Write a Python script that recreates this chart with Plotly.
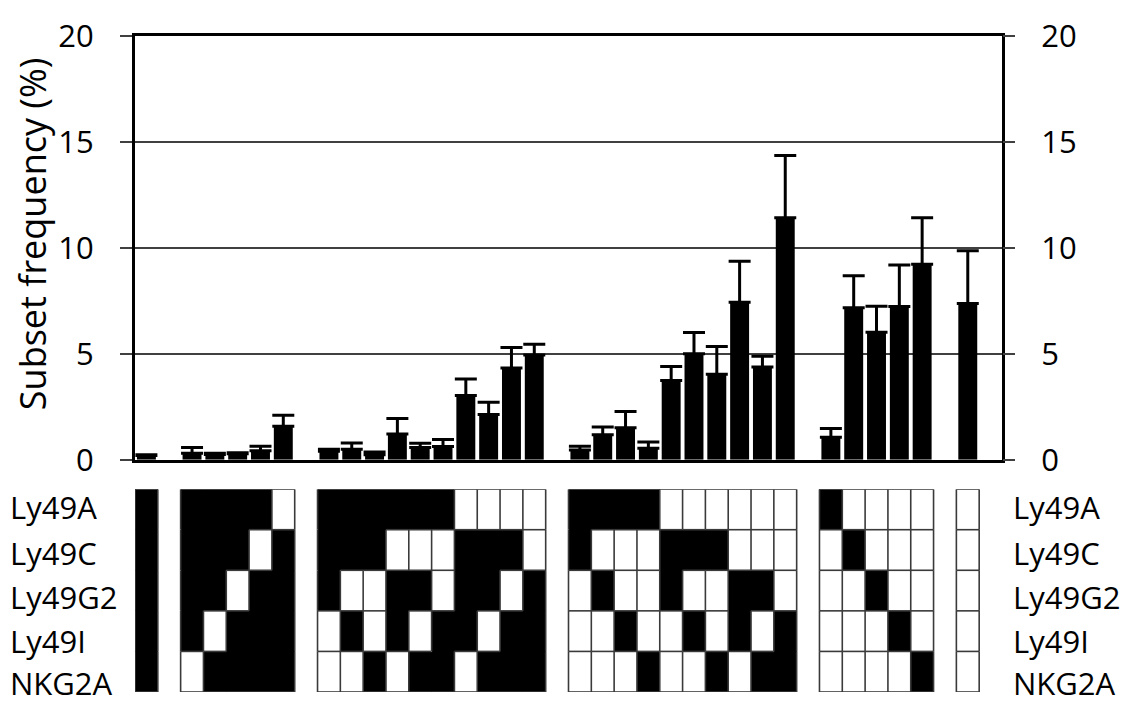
import plotly.graph_objects as go

# ---------------- data ----------------
group_sizes = [1, 5, 10, 10, 5, 1]

freq = [0.20,
        0.31, 0.25, 0.28, 0.43, 1.58,
        0.40, 0.50, 0.24, 1.21, 0.58, 0.63, 3.03, 2.14, 4.33, 4.94,
        0.46, 1.18, 1.51, 0.54, 3.74, 5.00, 4.04, 7.43, 4.38, 11.42,
        1.06, 7.17, 6.02, 7.23, 9.23,
        7.37]
err = [0.04,
       0.27, 0.06, 0.05, 0.21, 0.52,
       0.10, 0.29, 0.12, 0.74, 0.20, 0.32, 0.78, 0.57, 0.97, 0.51,
       0.18, 0.36, 0.77, 0.30, 0.66, 1.01, 1.31, 1.94, 0.51, 2.94,
       0.42, 1.52, 1.23, 1.96, 2.19,
       2.49]

receptors = ["Ly49A", "Ly49C", "Ly49G2", "Ly49I", "NKG2A"]
ly49a = [1, 1, 1, 1, 1, 0, 1, 1, 1, 1, 1, 1, 0, 0, 0, 0, 1, 1, 1, 1, 0, 0, 0, 0, 0, 0, 1, 0, 0, 0, 0, 0]
ly49c = [1, 1, 1, 1, 0, 1, 1, 1, 1, 0, 0, 0, 1, 1, 1, 0, 1, 0, 0, 0, 1, 1, 1, 0, 0, 0, 0, 1, 0, 0, 0, 0]
ly49g2 = [1, 1, 1, 0, 1, 1, 1, 0, 0, 1, 1, 0, 1, 1, 0, 1, 0, 1, 0, 0, 1, 0, 0, 1, 1, 0, 0, 0, 1, 0, 0, 0]
ly49i = [1, 1, 0, 1, 1, 1, 0, 1, 0, 1, 0, 1, 1, 0, 1, 1, 0, 0, 1, 0, 0, 1, 0, 1, 0, 1, 0, 0, 0, 1, 0, 0]
nkg2a = [1, 0, 1, 1, 1, 1, 0, 0, 1, 0, 1, 1, 0, 1, 1, 1, 0, 0, 0, 1, 0, 0, 1, 0, 1, 1, 0, 0, 0, 0, 1, 0]
matrix = [ly49a, ly49c, ly49g2, ly49i, nkg2a]

y_ticks = [0, 5, 10, 15, 20]

# ---------------- layout helpers ----------------
# page has an 8px body margin: figure is sized so that page == 1134x726
OFF = 8
W, H = 1134 - 2 * OFF, 726 - 2 * OFF
ML, MT = 135 - OFF, 20 - OFF
MR = W - (1002 - OFF)
MB = H - (712 - OFF)
PW, PH = W - ML - MR, H - MT - MB


def px_x(p):  # page pixel -> paper fraction
    return (p - OFF - ML) / PW


def px_y(p):
    return (H - MB - (p - OFF)) / PH


# slot positions: one empty slot between groups
xpos, group_of = [], []
s = 0
for gi, n in enumerate(group_sizes):
    for k in range(n):
        xpos.append(s)
        group_of.append(gi)
        s += 1
    s += 1
nslots = s - 1

FONT = "Open Sans"

fig = go.Figure()

fig.add_trace(go.Bar(
    x=xpos, y=freq, marker=dict(color="black", line=dict(width=0)),
    error_y=dict(type="data", array=err, arrayminus=[0] * len(err), symmetric=False,
                 visible=True, color="black", thickness=3, width=11),
    xaxis="x", yaxis="y", showlegend=False))

# invisible trace for right axis
fig.add_trace(go.Scatter(x=[xpos[0]], y=[0], mode="markers", marker=dict(opacity=0),
                         xaxis="x", yaxis="y3", showlegend=False, hoverinfo="skip"))

# heatmap grid
zfull = [[None] * (nslots + 1) for _ in receptors]
for r in range(len(receptors)):
    for i, xp in enumerate(xpos):
        zfull[r][xp] = matrix[r][i]
fig.add_trace(go.Heatmap(
    x=list(range(nslots + 1)), y=list(range(len(receptors))), z=zfull,
    colorscale=[[0, "white"], [1, "black"]], zmin=0, zmax=1, showscale=False,
    xaxis="x", yaxis="y2", hoverinfo="skip"))

# cell borders
lx, ly = [], []
occupied = {}
for i, xp in enumerate(xpos):
    for r in range(len(receptors)):
        occupied[(xp, r)] = (matrix[r][i], group_of[i])
for (xp, r), (v, g) in occupied.items():
    nb = occupied.get((xp + 1, r))
    if nb is None or nb[1] != g or v == 0 or nb[0] == 0:
        lx += [xp + 0.5, xp + 0.5, None]; ly += [r - 0.5, r + 0.5, None]
    nb = occupied.get((xp - 1, r))
    if nb is None or nb[1] != g:
        lx += [xp - 0.5, xp - 0.5, None]; ly += [r - 0.5, r + 0.5, None]
    nb = occupied.get((xp, r + 1))
    if nb is None or v == 0 or nb[0] == 0:
        lx += [xp - 0.5, xp + 0.5, None]; ly += [r + 0.5, r + 0.5, None]
    nb = occupied.get((xp, r - 1))
    if nb is None:
        lx += [xp - 0.5, xp + 0.5, None]; ly += [r - 0.5, r - 0.5, None]
fig.add_trace(go.Scatter(x=lx, y=ly, mode="lines", line=dict(color="#3a3a3a", width=1.6),
                         xaxis="x", yaxis="y2", showlegend=False, hoverinfo="skip"))

tickfont = dict(family=FONT, size=31, color="black")
fig.update_layout(
    width=W, height=H, margin=dict(l=ML, r=MR, t=MT, b=MB),
    paper_bgcolor="white", plot_bgcolor="white", bargap=0.17,
    xaxis=dict(range=[-0.5, nslots + 0.5], showticklabels=False, ticks="", showgrid=False,
               zeroline=False, showline=True, linecolor="black", linewidth=3, mirror=True,
               anchor="y"),
    yaxis=dict(domain=[px_y(467), 1], range=[0, 20], tickvals=y_ticks, ticks="outside",
               ticklen=12, tickwidth=1.5, tickcolor="#404040", showgrid=True,
               gridcolor="#404040", gridwidth=1.5, zeroline=False, showline=True,
               linecolor="black", linewidth=3, mirror=True, tickfont=tickfont,
               ticklabelstandoff=20, ticklabeloverflow="allow", anchor="x"),
    yaxis3=dict(overlaying="y", side="right", range=[0, 20], tickvals=y_ticks, ticks="outside",
                ticklen=12, tickwidth=1.5, tickcolor="#404040", showgrid=False, zeroline=False,
                showline=False, tickfont=tickfont, ticklabelstandoff=20,
                ticklabeloverflow="allow", anchor="x"),
    yaxis2=dict(domain=[0, px_y(498)], range=[len(receptors) - 0.5, -0.5], showticklabels=False,
                ticks="", showgrid=False, zeroline=False, showline=False, anchor="x"),
)

label_y = [517, 565, 612, 658, 703]
annotations = [dict(text="Subset frequency (%)", textangle=-90, xref="paper", yref="paper",
                    x=px_x(32), y=px_y(229), xanchor="center", yanchor="middle", showarrow=False,
                    font=dict(family=FONT, size=36, color="black"))]
for name, py in zip(receptors, label_y):
    annotations.append(dict(text=name, xref="paper", yref="paper", x=px_x(OFF), y=px_y(py),
                            xanchor="left", yanchor="middle", showarrow=False,
                            font=dict(family=FONT, size=31, color="black")))
    annotations.append(dict(text=name, xref="paper", yref="paper", x=px_x(1011), y=px_y(py),
                            xanchor="left", yanchor="middle", showarrow=False,
                            font=dict(family=FONT, size=31, color="black")))
fig.update_layout(annotations=annotations)

fig.write_html("out.html")
